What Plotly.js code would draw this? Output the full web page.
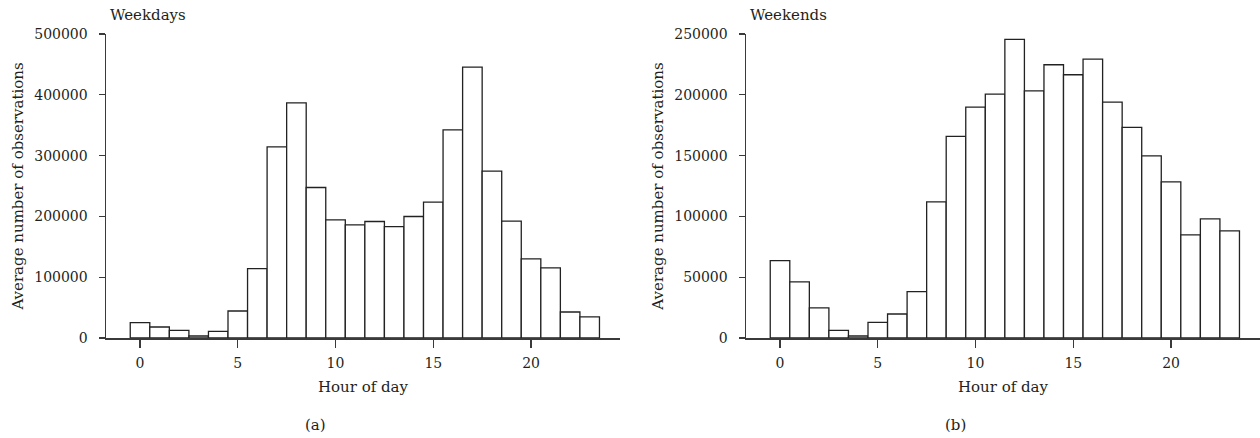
<!DOCTYPE html>
<html>
<head>
<meta charset="utf-8">
<script src="https://cdn.plot.ly/plotly-3.0.1.min.js"></script>
<style>html,body{margin:0;padding:0;background:#fff}#chart{width:1260px;height:438px}</style>
</head>
<body>
<div id="chart"></div>
<script>
const hours = [0,1,2,3,4,5,6,7,8,9,10,11,12,13,14,15,16,17,18,19,20,21,22,23];
const weekdays = [25300,18100,12700,3300,11000,44400,114200,314400,386800,247500,194200,186000,191600,183300,199800,223400,342400,445600,274400,192100,130000,115200,42800,34600];
const weekends = [63700,46100,24700,6300,1650,12900,19750,38200,111900,165800,189900,200600,245600,203300,224700,216500,229400,194000,173200,149800,128400,84800,97900,88100];
const panelTitles = ["Weekdays","Weekends"];
const panelLabels = ["(a)","(b)"];
const xTitle = "Hour of day";
const yTitle = "Average number of observations";

const FONT = "DejaVu Serif, serif";
const TXT = "#231f20";
const AX = "#3a3a3a";

const barStyle = {type:"bar", width:1, marker:{color:"#ffffff", line:{color:"#222", width:1.3}}, hoverinfo:"x+y", showlegend:false};
const traces = [
  Object.assign({}, barStyle, {x:hours, y:weekdays, xaxis:"x", yaxis:"y"}),
  Object.assign({}, barStyle, {x:hours, y:weekends, xaxis:"x2", yaxis:"y2"})
];

function xa(domain, anchor){
  return {domain:domain, anchor:anchor, range:[-1.74,24.55], tickvals:[0,5,10,15,20], ticks:"outside", ticklen:8, tickwidth:1.2, tickcolor:AX,
    showline:true, linecolor:AX, linewidth:1.5, showgrid:false, zeroline:false, ticklabelstandoff:4,
    tickfont:{family:FONT, size:14, color:TXT}, title:{text:xTitle, font:{family:FONT, size:15, color:TXT}, standoff:11}};
}
function ya(max, anchor){
  return {anchor:anchor, domain:[0,1], range:[0,max], dtick:max/5, tickformat:"d", ticks:"outside", ticklen:6, tickwidth:1.2, tickcolor:AX,
    showline:true, linecolor:AX, linewidth:1.5, showgrid:false, zeroline:false, ticklabelstandoff:8,
    tickfont:{family:FONT, size:14, color:TXT}, title:{text:yTitle, font:{family:FONT, size:15, color:TXT}, standoff:7}};
}

const W = 1260, H = 438, ml = 106, mt = 34, mb = 100.3;
const pw = W - ml;
const d1 = [0, (620-ml)/pw];
const d2 = [(746-ml)/pw, 1];
const ph = H - mt - mb;
function px(x){ return (x-ml)/pw; }
function py(y){ return 1 - (y-mt)/ph; }

const layout = {
  width:W, height:H, margin:{l:ml, r:0, t:mt, b:mb}, bargap:0,
  paper_bgcolor:"#fff", plot_bgcolor:"#fff",
  font:{family:FONT, color:TXT},
  xaxis: xa(d1,"y"), yaxis: ya(500000,"x"),
  xaxis2: xa(d2,"y2"), yaxis2: ya(250000,"x2"),
  annotations:[
    {text:panelTitles[0], xref:"paper", yref:"paper", x:px(108), y:py(15), xanchor:"left", yanchor:"middle", showarrow:false, font:{family:FONT,size:15,color:TXT}},
    {text:panelTitles[1], xref:"paper", yref:"paper", x:px(748), y:py(15), xanchor:"left", yanchor:"middle", showarrow:false, font:{family:FONT,size:15,color:TXT}},
    {text:panelLabels[0], xref:"paper", yref:"paper", x:px(315), y:py(425), xanchor:"center", yanchor:"middle", showarrow:false, font:{family:FONT,size:15,color:TXT}},
    {text:panelLabels[1], xref:"paper", yref:"paper", x:px(955), y:py(425), xanchor:"center", yanchor:"middle", showarrow:false, font:{family:FONT,size:15,color:TXT}}
  ]
};
Plotly.newPlot("chart", traces, layout, {displayModeBar:false, staticPlot:true});
</script>
</body>
</html>
